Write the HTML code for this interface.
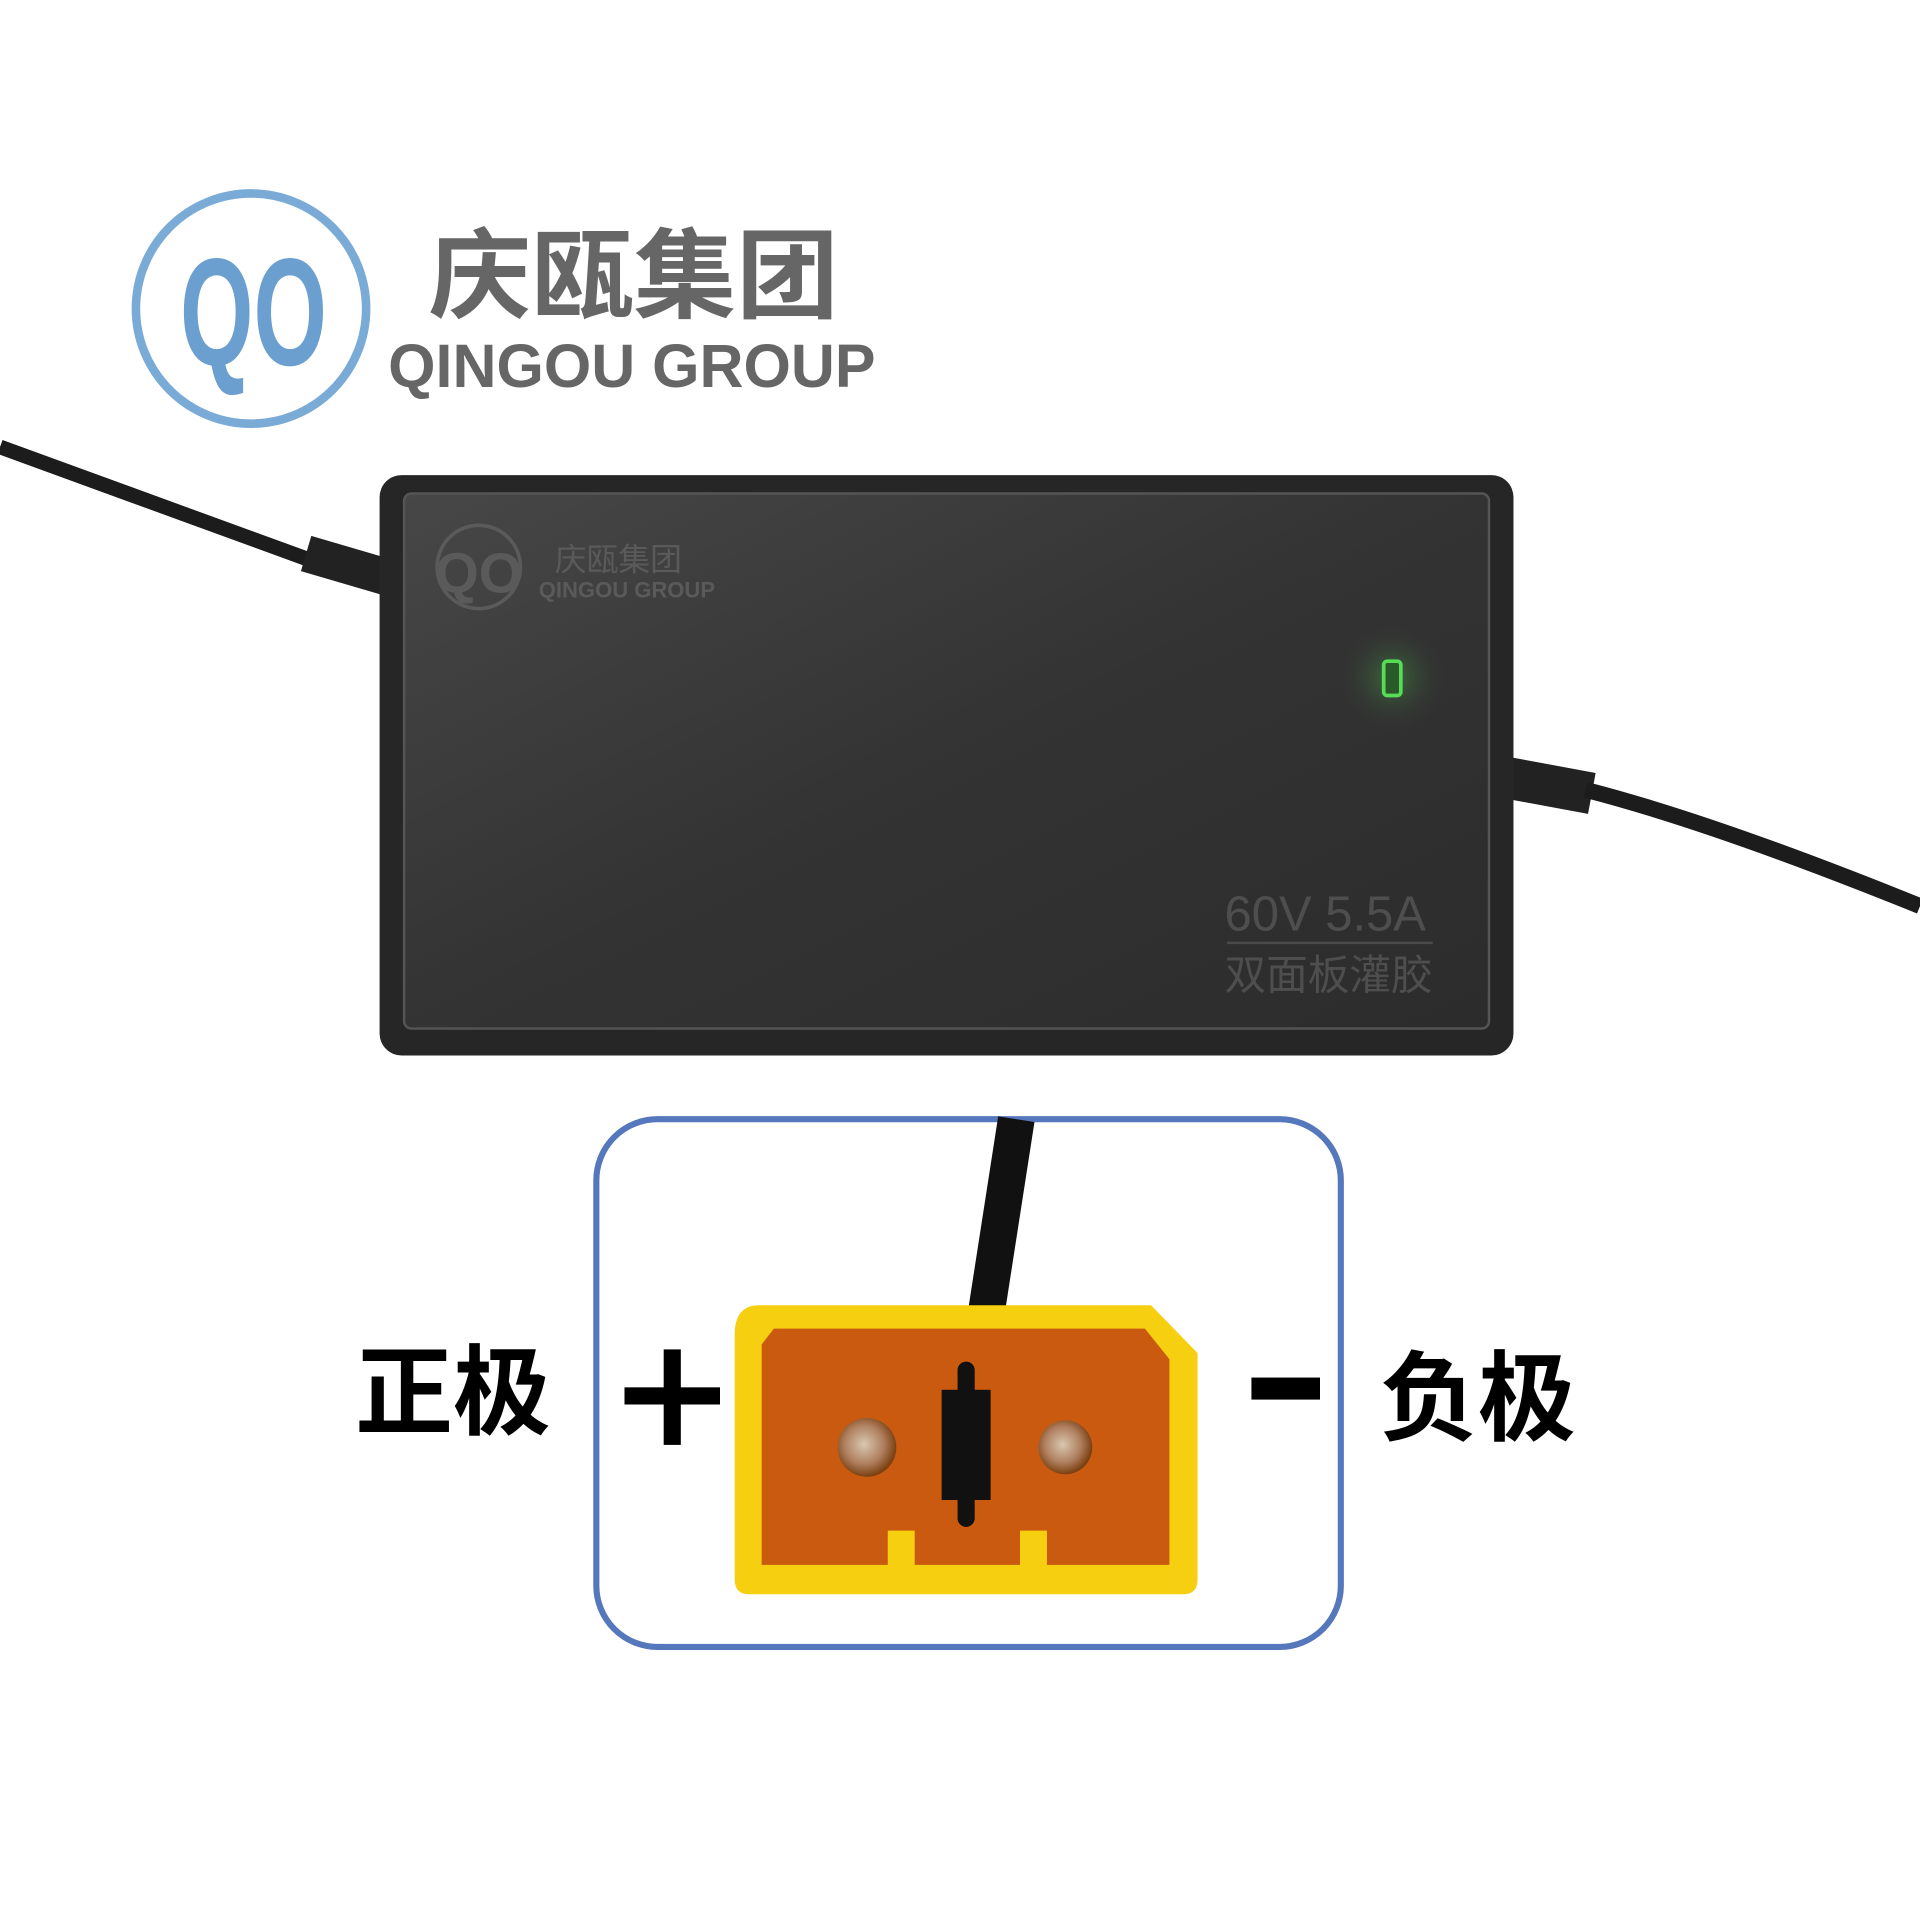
<!DOCTYPE html>
<html><head><meta charset="utf-8"><style>
html,body{margin:0;padding:0;background:#fff;width:1920px;height:1920px;overflow:hidden}
svg{display:block}
</style></head><body>
<svg width="1920" height="1920" viewBox="0 0 1568 1568" xmlns="http://www.w3.org/2000/svg">
<defs>
<linearGradient id="panel" x1="0" y1="0" x2="1" y2="1">
<stop offset="0" stop-color="#474747"/><stop offset="0.5" stop-color="#333"/><stop offset="1" stop-color="#2c2c2c"/>
</linearGradient>
<radialGradient id="glow" cx="0.5" cy="0.5" r="0.5">
<stop offset="0" stop-color="#3f7a3f" stop-opacity="0.8"/><stop offset="1" stop-color="#333" stop-opacity="0"/>
</radialGradient>
<radialGradient id="pin" cx="0.45" cy="0.45" r="0.55">
<stop offset="0" stop-color="#d8c8b0"/><stop offset="0.6" stop-color="#b08060"/><stop offset="1" stop-color="#7a4010"/>
</radialGradient>
</defs>
<rect width="1568" height="1568" fill="#fff"/>
<!-- logo -->
<circle cx="205" cy="252" r="94" fill="none" stroke="#7aaad6" stroke-width="7"/>
<text x="207" y="298" text-anchor="middle" font-family="Liberation Sans Narrow, Liberation Sans, sans-serif" font-weight="bold" font-size="125" fill="#6b9fcf" textLength="120" lengthAdjust="spacingAndGlyphs">QO</text>
<text x="350" y="253" font-family="Liberation Sans, Noto Sans CJK SC, sans-serif" font-weight="bold" font-size="80" fill="#666" textLength="335" lengthAdjust="spacingAndGlyphs">庆瓯集团</text>
<text x="317" y="316" font-family="Liberation Sans, sans-serif" font-weight="bold" font-size="50" fill="#666" textLength="398" lengthAdjust="spacingAndGlyphs">QINGOU GROUP</text>
<!-- cables -->
<path d="M0 365 L255 458" stroke="#1c1c1c" stroke-width="12" fill="none"/>
<path d="M250 452 L318 472" stroke="#222" stroke-width="30" fill="none"/>
<path d="M1230 635 L1300 648" stroke="#222" stroke-width="34" fill="none"/>
<path d="M1295 645 Q1400 672 1568 740" stroke="#1c1c1c" stroke-width="13" fill="none"/>
<!-- charger -->
<rect x="310" y="388" width="926" height="474" rx="18" fill="#262626"/>
<rect x="330" y="403" width="886" height="437" rx="6" fill="url(#panel)" stroke="#555" stroke-width="2"/>
<circle cx="391" cy="463" r="34" fill="none" stroke="#5a5a5a" stroke-width="3"/>
<text x="391" y="484" text-anchor="middle" font-family="Liberation Sans, sans-serif" font-weight="bold" font-size="46" fill="#5a5a5a">QO</text>
<text x="453" y="466" font-family="Liberation Sans, Noto Sans CJK SC, sans-serif" font-size="26" fill="#5a5a5a">庆瓯集团</text>
<text x="440" y="488" font-family="Liberation Sans, sans-serif" font-weight="bold" font-size="18" fill="#5a5a5a">QINGOU GROUP</text>
<circle cx="1137" cy="553" r="45" fill="url(#glow)"/>
<rect x="1130" y="540" width="14" height="28" rx="3" fill="#2a5a2a" stroke="#55dd55" stroke-width="3"/>
<text x="1000" y="760" font-family="Liberation Sans, sans-serif" font-size="40" fill="#4e4e4e">60V  5.5A</text>
<line x1="1002" y1="770" x2="1170" y2="770" stroke="#4a4a4a" stroke-width="2"/>
<text x="1000" y="808" font-family="Liberation Sans, Noto Sans CJK SC, sans-serif" font-size="34" fill="#4e4e4e">双面板灌胶</text>
<!-- blue box -->
<rect x="487" y="914" width="608" height="431" rx="50" fill="none" stroke="#5577bb" stroke-width="5"/>
<path d="M830 914 L805 1075" stroke="#111" stroke-width="30" fill="none"/>
<!-- connector -->
<path d="M620 1066 L940 1066 L978 1105 L978 1290 Q978 1302 966 1302 L612 1302 Q600 1302 600 1290 L600 1090 Q600 1066 620 1066 Z" fill="#f6cf10"/>
<path d="M632 1085 L935 1085 L955 1110 L955 1278 L622 1278 L622 1098 Z" fill="#c95a10"/>
<rect x="725" y="1250" width="22" height="30" fill="#f6cf10"/>
<rect x="833" y="1250" width="22" height="30" fill="#f6cf10"/>
<circle cx="708" cy="1182" r="24" fill="url(#pin)"/>
<circle cx="870" cy="1182" r="22" fill="url(#pin)"/>
<rect x="769" y="1135" width="40" height="90" fill="#111"/>
<rect x="782" y="1112" width="14" height="135" rx="7" fill="#111"/>
<!-- labels -->
<text x="290" y="1165" font-family="Liberation Sans, Noto Sans CJK SC, sans-serif" font-weight="bold" font-size="80" fill="#000">正极</text>
<rect x="510" y="1133" width="78" height="14" fill="#000"/>
<rect x="542" y="1102" width="14" height="78" fill="#000"/>
<rect x="1022" y="1125" width="56" height="18" fill="#000"/>
<text x="1127" y="1170" font-family="Liberation Sans, Noto Sans CJK SC, sans-serif" font-weight="bold" font-size="80" fill="#000">负极</text>
</svg>
</body></html>
